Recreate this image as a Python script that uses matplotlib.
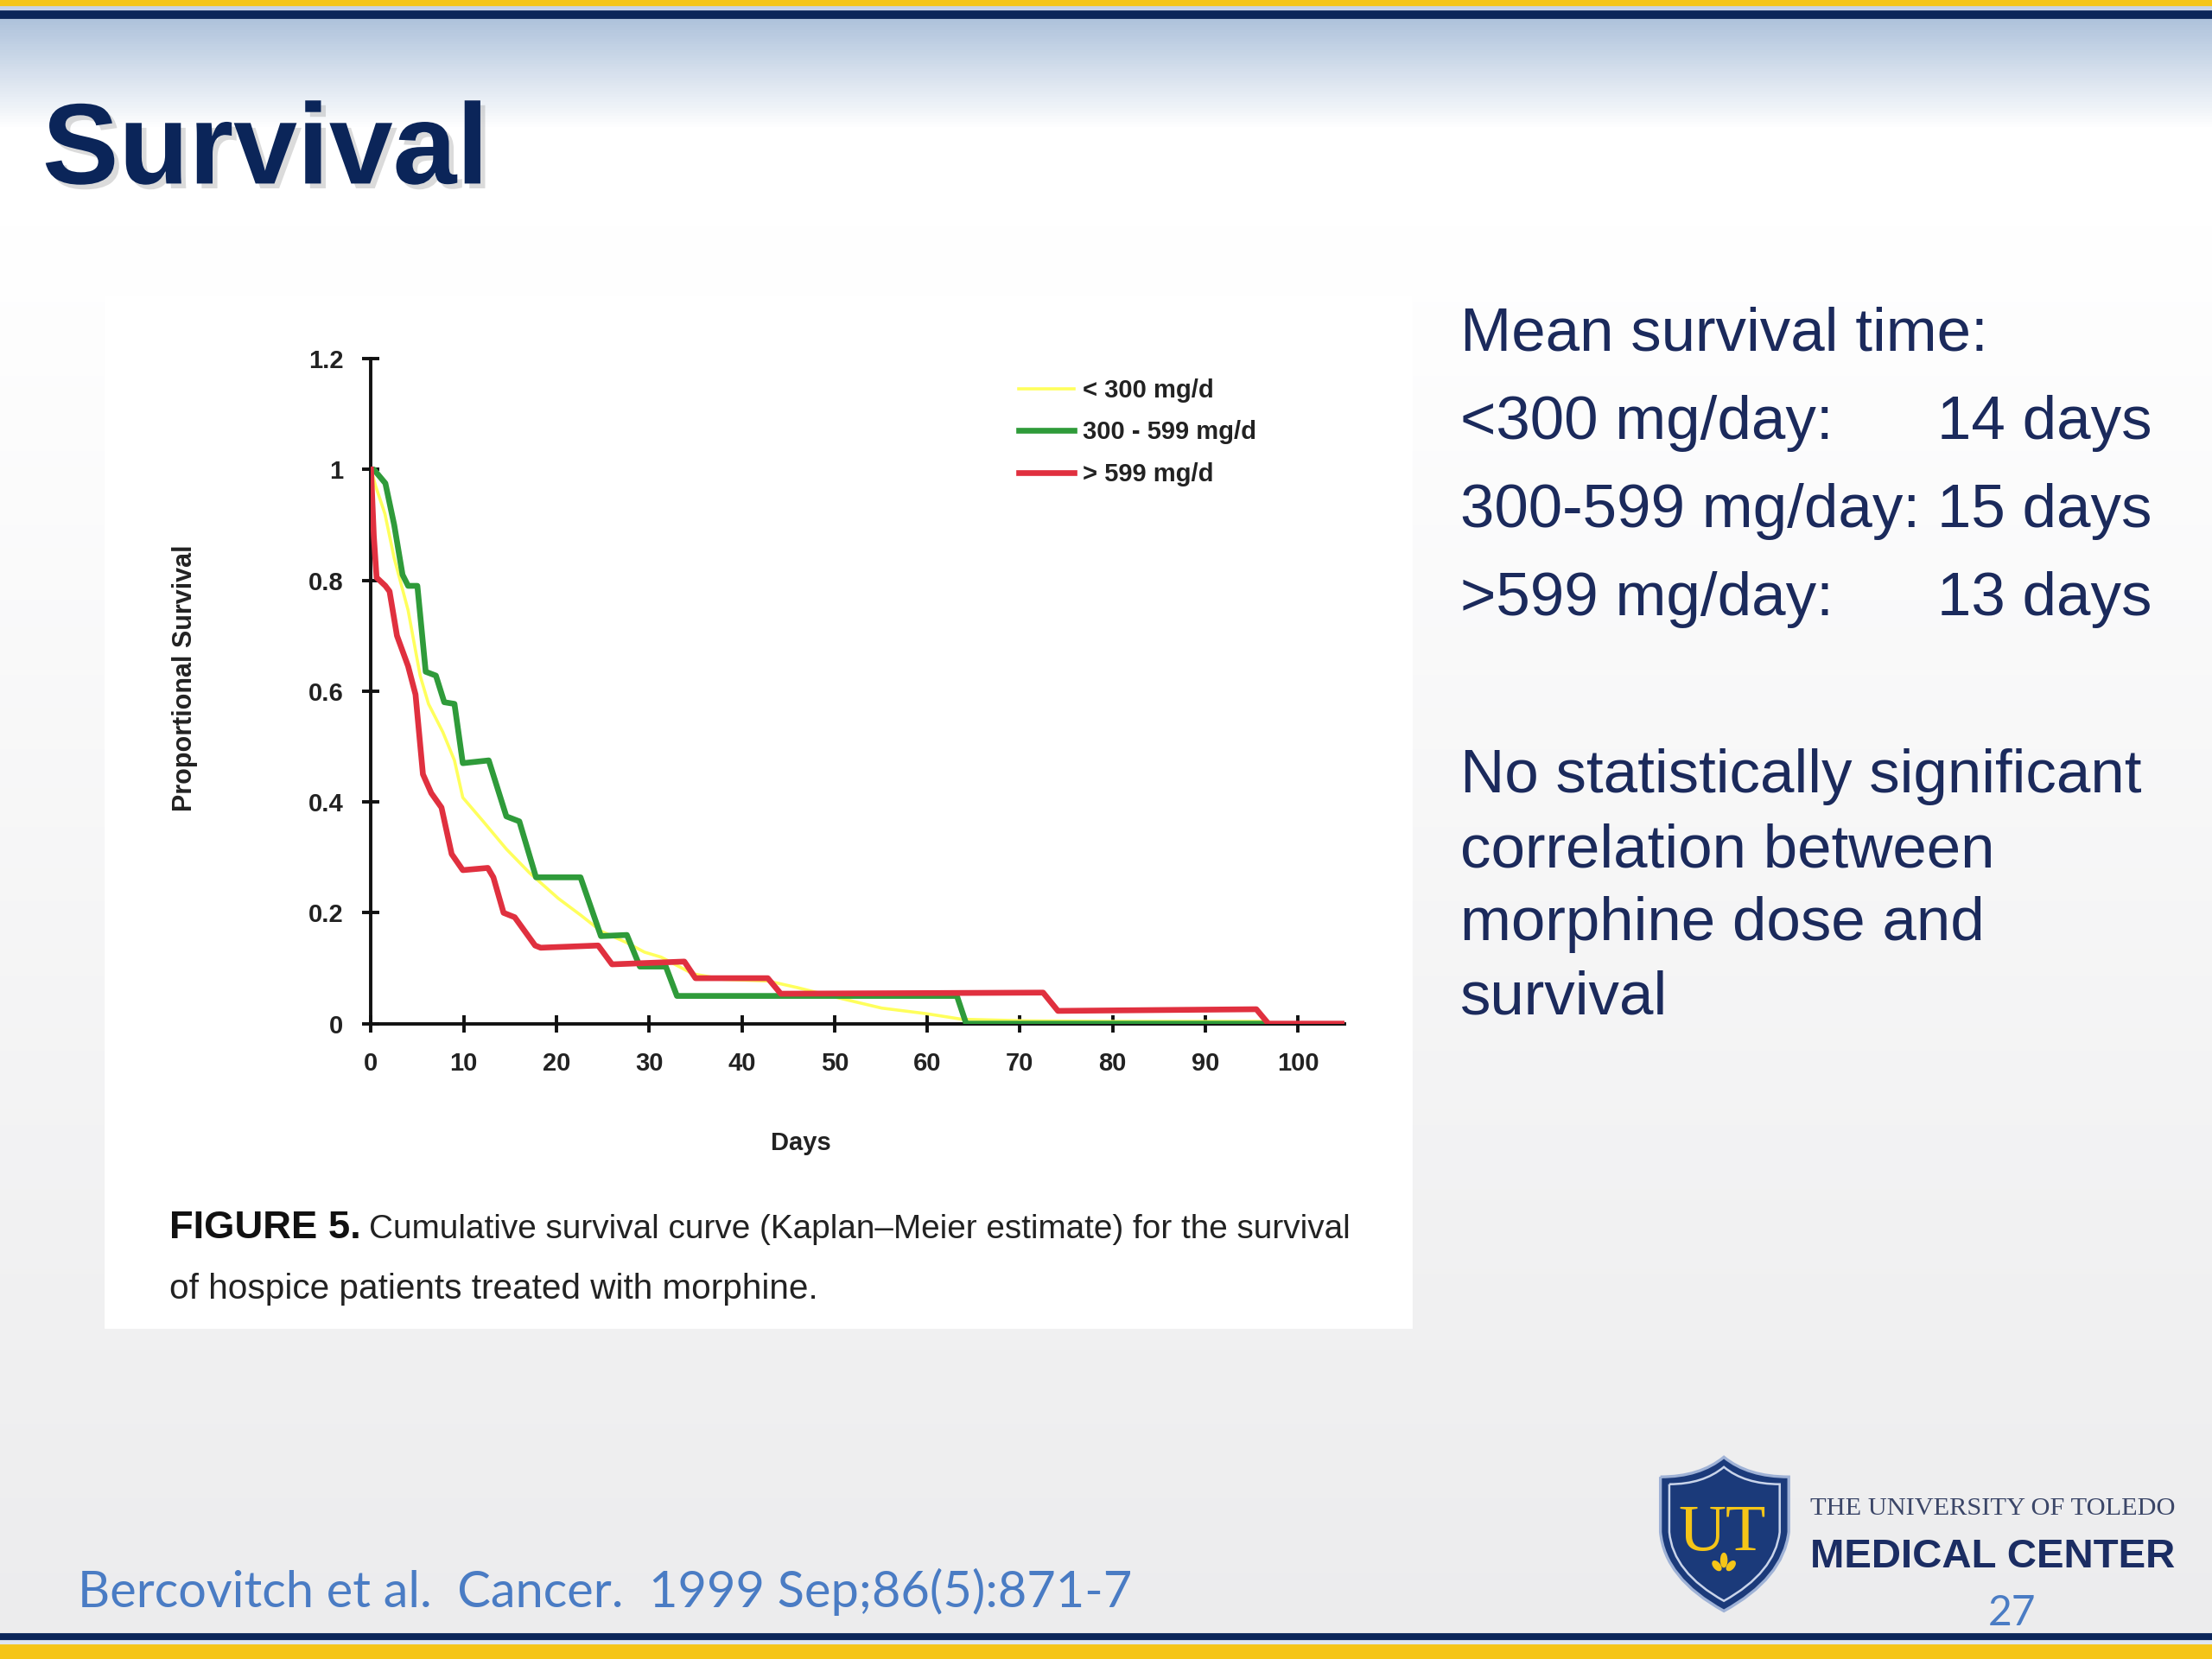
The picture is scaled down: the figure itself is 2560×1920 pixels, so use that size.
import matplotlib
matplotlib.use("Agg")
import matplotlib.pyplot as plt
import numpy as np
from matplotlib import font_manager
from matplotlib.patches import Rectangle, PathPatch, Ellipse
from matplotlib.path import Path
import matplotlib.patheffects as pe

# ---- data ----
days_low = [0, 0.5, 1.5, 2.5, 4.0, 5.3, 6.2, 7.75, 9.0, 9.9, 12.1, 14.6, 17.1, 20.2, 22.6,
            24.8, 27.6, 29.5, 31.3, 34.7, 38, 42.8, 46, 49.8, 55.1, 59.9, 63.7, 70.6, 80,
            90, 96, 96.5]
surv_low = [1.0, 0.97, 0.92, 0.84, 0.746, 0.628, 0.577, 0.526, 0.475, 0.408, 0.365, 0.315,
            0.272, 0.226, 0.196, 0.167, 0.146, 0.129, 0.12, 0.09, 0.08, 0.077, 0.065, 0.049,
            0.028, 0.018, 0.008, 0.005, 0.004, 0.004, 0.004, 0.0]

days_mid = [0, 0.3, 1.55, 2.5, 3.4, 4.0, 5.0, 5.9, 7.0, 7.9, 9.0, 9.9, 12.7, 14.6, 16.0,
            17.8, 22.6, 24.8, 27.6, 29.0, 31.8, 33.0, 63.2, 64.2, 96.6]
surv_mid = [1.0, 1.0, 0.975, 0.90, 0.81, 0.79, 0.79, 0.635, 0.628, 0.58, 0.577, 0.47, 0.475,
            0.374, 0.365, 0.264, 0.264, 0.158, 0.16, 0.103, 0.103, 0.05, 0.05, 0.0, 0.0]

days_high = [0, 0.3, 0.6, 1.55, 2.0, 2.8, 4.0, 4.8, 5.6, 6.5, 7.6, 8.7, 9.9, 12.6, 13.2,
             14.3, 15.5, 17.7, 18.3, 24.5, 26.0, 33.8, 35.0, 42.8, 44.2, 72.5, 74.1, 95.5,
             96.8, 104.9]
surv_high = [1.0, 0.88, 0.805, 0.79, 0.78, 0.70, 0.645, 0.594, 0.45, 0.416, 0.39, 0.306,
             0.277, 0.281, 0.264, 0.20, 0.192, 0.141, 0.137, 0.141, 0.107, 0.112, 0.082,
             0.082, 0.054, 0.056, 0.023, 0.026, 0.0, 0.0]

legend_labels = ["< 300 mg/d", "300 - 599 mg/d", "> 599 mg/d"]
x_ticks = list(range(0, 101, 10))
y_ticks = [0, 0.2, 0.4, 0.6, 0.8, 1.0, 1.2]
y_tick_labels = ["0", "0.2", "0.4", "0.6", "0.8", "1", "1.2"]

dose_groups = ["<300 mg/day:", "300-599 mg/day:", ">599 mg/day:"]
mean_days = [14, 15, 13]

names = {f.name for f in font_manager.fontManager.ttflist}
narrow = "Liberation Sans Narrow" if "Liberation Sans Narrow" in names else "Liberation Sans"
sans = "Liberation Sans"

navy = "#0b2559"
text_navy = "#1b2a5c"
blue = "#4a7cc4"
gold = "#f5c518"

W, H = 1568, 1175  # layout units (screen pixels of the slide)
fig = plt.figure(figsize=(12.8, 9.6), dpi=200)
scale = 2560 / W
renderer = fig.canvas.get_renderer()

# background axes in slide units, y downwards
bg = fig.add_axes([0, 0, 1, 1])
bg.set_xlim(0, W)
bg.set_ylim(H, 0)
bg.axis("off")

ys = np.linspace(0, H, 600)
top = np.array([0.68, 0.76, 0.86])
white = np.array([1.0, 1.0, 1.0])
grey = np.array([0.925, 0.925, 0.93])
cols = []
for y in ys:
    if y < 90:
        t = (y - 12) / 78
        c = top * (1 - t) + white * t
    elif y < 160:
        c = white
    else:
        t = (y - 160) / (H - 160)
        c = white * (1 - t) + grey * t
    cols.append(c)
grad = np.clip(np.array(cols), 0, 1)[:, None, :]
bg.imshow(grad, extent=(0, W, H, 0), aspect="auto", zorder=0)

# top and bottom stripes
bg.add_patch(Rectangle((0, 0), W, 5, color=gold, zorder=1))
bg.add_patch(Rectangle((0, 5), W, 3, color="#c7d3e6", zorder=1))
bg.add_patch(Rectangle((0, 8), W, 4, color=navy, zorder=1))
bg.add_patch(Rectangle((0, 1157), W, 5, color=navy, zorder=1))
bg.add_patch(Rectangle((0, 1162), W, 3, color="#dfe6f0", zorder=1))
bg.add_patch(Rectangle((0, 1165), W, 10, color=gold, zorder=1))

# white panel behind the figure
bg.add_patch(Rectangle((75, 210), 925, 730, color="white", zorder=1))


def fit(x, y, s, width, **kw):
    t = bg.text(x, y, s, fontsize=20, **kw)
    w = t.get_window_extent(renderer).width
    t.set_fontsize(20 * width * scale / w)
    return t


# title
title = fit(30, 130, "Survival", 316, color=navy, fontweight="bold", family=sans,
            va="baseline", zorder=3)
title.set_path_effects([pe.withSimplePatchShadow(offset=(2, -2), shadow_rgbFace="#9a9a9a",
                                                   alpha=0.35)])

# right-hand text
ref = fit(1035, 561, "No statistically significant", 483, color=text_navy, family=sans,
          va="baseline", zorder=3)
fs = ref.get_fontsize()
for s, yb in [("correlation between", 614), ("morphine dose and", 666), ("survival", 718)]:
    bg.text(1035, yb, s, fontsize=fs, color=text_navy, family=sans, va="baseline", zorder=3)
bg.text(1035, 248, "Mean survival time:", fontsize=fs, color=text_navy, family=sans,
        va="baseline", zorder=3)
for i, (g, d) in enumerate(zip(dose_groups, mean_days)):
    yb = 311 + i * 62.5
    bg.text(1035, yb, g, fontsize=fs, color=text_navy, family=sans, va="baseline", zorder=3)
    bg.text(1373, yb, f"{d} days", fontsize=fs, color=text_navy, family=sans,
            va="baseline", zorder=3)

# citation and slide number
fit(55, 1138, "Bercovitch et al.  Cancer.  1999 Sep;86(5):871-7", 748, color=blue,
    family="Lato", va="baseline", zorder=3)
fit(1443, 1151, "27", 34, color=blue, family="Lato", va="baseline", ha="right", zorder=3)

# figure caption
cap = fit(120, 920, "of hospice patients treated with morphine.", 460, color="#222222",
          family=narrow, va="baseline", zorder=3)
cfs = cap.get_fontsize()
f5 = bg.text(120, 877, "FIGURE 5.", fontsize=cfs * 1.12, color="#111111", family=narrow,
             fontweight="bold", va="baseline", zorder=3)
x_end = bg.transData.inverted().transform(
    (f5.get_window_extent(renderer).x1, 0))[0]
rest = bg.text(x_end + 6, 877, "Cumulative survival curve (Kaplan\u2013Meier estimate) for the survival",
               fontsize=cfs, color="#222222", family=narrow, va="baseline", zorder=3)
rw = rest.get_window_extent(renderer).width
rest.set_fontsize(cfs * (958 - x_end - 6) * scale / rw)

# logo: shield
cx = 1222
shield = Path([(1177, 1046), (1205, 1046), (cx, 1032), (1239, 1046), (1268, 1046),
               (1268, 1085), (1264, 1118), (cx, 1141), (1180, 1118), (1177, 1085),
               (1177, 1046)],
              [Path.MOVETO, Path.CURVE3, Path.CURVE3, Path.CURVE3, Path.CURVE3,
               Path.LINETO, Path.CURVE3, Path.CURVE3, Path.CURVE3, Path.CURVE3,
               Path.LINETO])
bg.add_patch(PathPatch(shield, facecolor="#1b3a7a", edgecolor="#9fb2d6", lw=1.2, zorder=3))
inner = shield.vertices.copy()
inner[:, 0] = cx + (inner[:, 0] - cx) * 0.86
inner[:, 1] = 1086 + (inner[:, 1] - 1086) * 0.87
bg.add_patch(PathPatch(Path(inner, shield.codes), facecolor="none", edgecolor="#c9d4ea",
                       lw=0.9, zorder=4))
fit(cx - 1, 1098, "UT", 62, color=gold, family="Liberation Serif", ha="center",
    va="baseline", zorder=5)
bg.add_patch(Ellipse((cx, 1105), 3.5, 9, color=gold, zorder=5))
bg.add_patch(Ellipse((cx - 5, 1109), 3.5, 7, angle=-40, color=gold, zorder=5))
bg.add_patch(Ellipse((cx + 5, 1109), 3.5, 7, angle=40, color=gold, zorder=5))

fit(1283, 1073, "THE UNIVERSITY OF TOLEDO", 259, color="#3b4668", family="Liberation Serif",
    va="baseline", zorder=3)
fit(1283, 1110, "MEDICAL CENTER", 259, color="#1b2d63", family=narrow, fontweight="bold",
    va="baseline", zorder=3)

# ---- the Kaplan-Meier chart ----
ax = fig.add_axes([263 / W, 1 - 725 / H, (953 - 263) / W, (725 - 254) / H])
ax.patch.set_alpha(0)
ax.plot(days_low, surv_low, color="#ffff5c", lw=1.3, label=legend_labels[0], zorder=3)
ax.plot(days_mid, surv_mid, color="#2f9b3a", lw=2.4, label=legend_labels[1], zorder=4)
ax.plot(days_high, surv_high, color="#e0303f", lw=2.4, label=legend_labels[2], zorder=5)
ax.set_xlim(0, 105)
ax.set_ylim(0, 1.2)
ax.set_xticks(x_ticks)
ax.set_yticks(y_ticks)
ax.set_yticklabels(y_tick_labels)
for side in ["top", "right"]:
    ax.spines[side].set_visible(False)
for side in ["left", "bottom"]:
    ax.spines[side].set_linewidth(1.4)
    ax.spines[side].set_color("#111111")
ax.tick_params(direction="inout", length=7, width=1.4, color="#111111",
               labelsize=10.5, pad=8)
for lab in ax.get_xticklabels() + ax.get_yticklabels():
    lab.set_fontweight("bold")
    lab.set_family(sans)
    lab.set_color("#222222")
ax.set_xlabel("Days", fontsize=10.5, fontweight="bold", family=sans, color="#222222")
ax.xaxis.set_label_coords(0.442, -0.161)
ax.set_ylabel("Proportional Survival", fontsize=11, fontweight="bold", family=sans,
              color="#222222")
ax.yaxis.set_label_coords(-0.178, 0.52)
leg = ax.legend(loc="upper left", bbox_to_anchor=(722 / W, 1 - 268 / H),
                bbox_transform=fig.transFigure, frameon=False, borderpad=0,
                borderaxespad=0, handlelength=2.2, handletextpad=0.35, labelspacing=0.7,
                prop={"family": sans, "weight": "bold", "size": 10.5})
for t in leg.get_texts():
    t.set_color("#222222")

fig.savefig("out.png", dpi=200)
